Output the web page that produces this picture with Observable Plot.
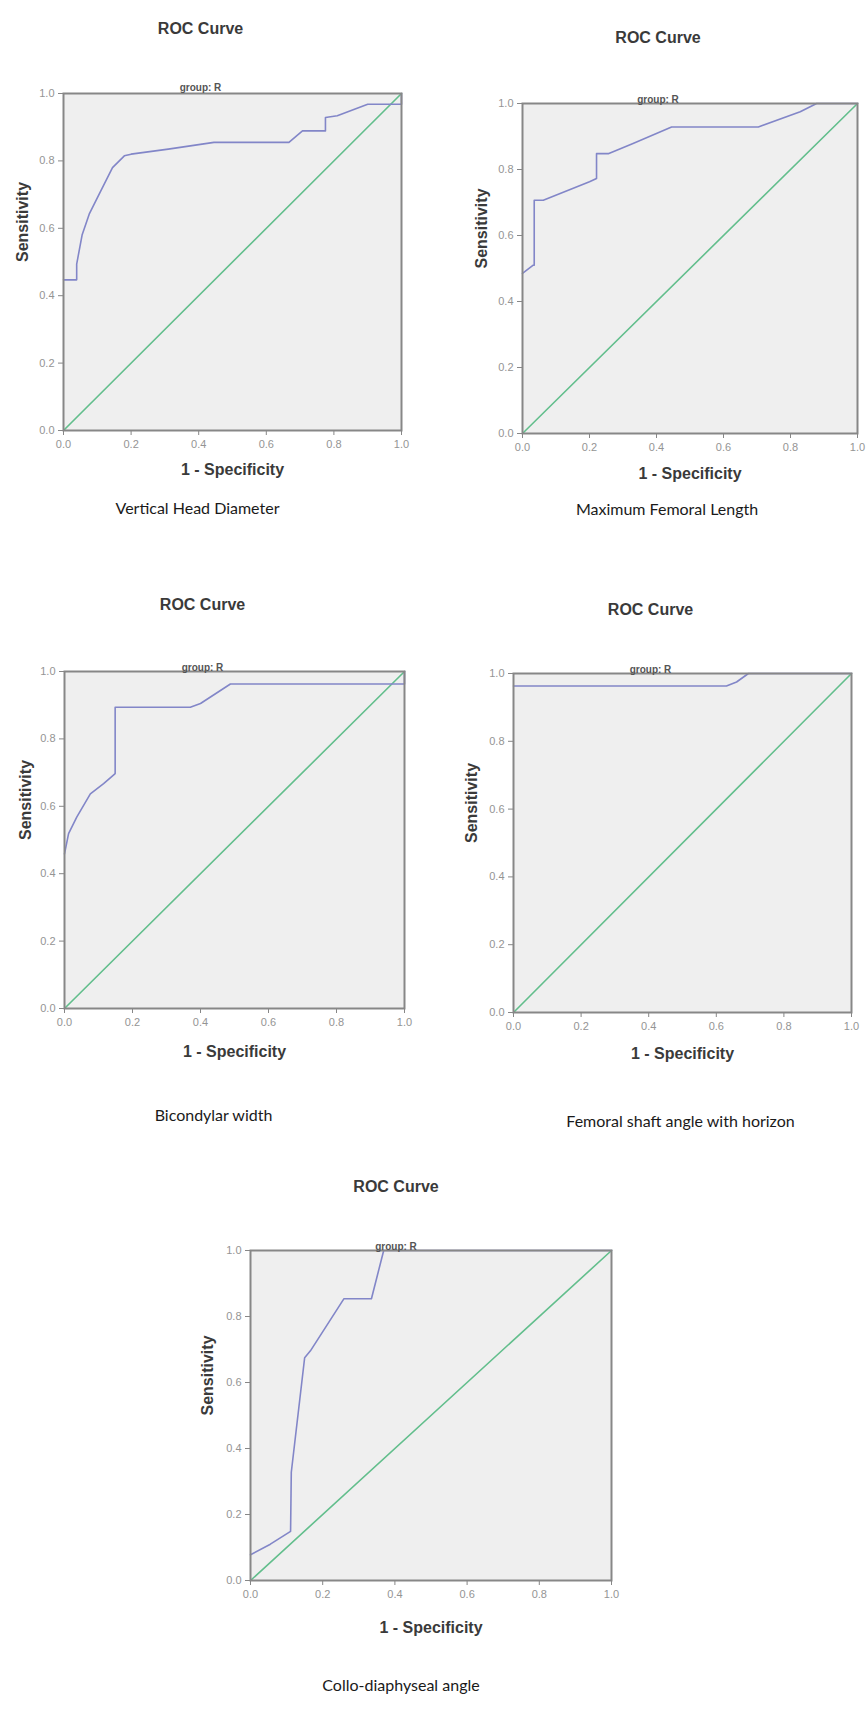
<!DOCTYPE html>
<html><head><meta charset="utf-8">
<script src="https://cdn.jsdelivr.net/npm/d3@7"></script>
<script src="https://cdn.jsdelivr.net/npm/@observablehq/plot@0.6"></script>
<style>
html,body{margin:0;padding:0;background:#fff;}
#page{position:relative;width:866px;height:1732px;overflow:hidden;background:#fff;}
#page svg{position:absolute;}
</style></head><body><div id="page"></div>
<script>
// ---- text ----
const titleText = "ROC Curve";
const groupText = "group: R";
const xLabel = "1 - Specificity";
const yLabel = "Sensitivity";
const captions = ["Vertical Head Diameter", "Maximum Femoral Length", "Bicondylar width", "Femoral shaft angle with horizon", "Collo-diaphyseal angle"];
const tickValues = [0, 0.2, 0.4, 0.6, 0.8, 1.0];
const diagonal = [0, 1];

// ---- series (1 - specificity, sensitivity) ----
const vhdFpr = [0, 0.039, 0.039, 0.055, 0.076, 0.11, 0.145, 0.18, 0.2, 0.31, 0.445, 0.667, 0.707, 0.775, 0.775, 0.81, 0.9, 1.0, 1.0];
const vhdTpr = [0.447, 0.447, 0.494, 0.58, 0.642, 0.71, 0.78, 0.815, 0.82, 0.835, 0.855, 0.855, 0.889, 0.889, 0.929, 0.934, 0.968, 0.968, 1.0];

const mflFpr = [0, 0.032, 0.035, 0.035, 0.062, 0.2, 0.221, 0.221, 0.256, 0.33, 0.445, 0.704, 0.829, 0.878, 1.0];
const mflTpr = [0.485, 0.51, 0.51, 0.707, 0.707, 0.763, 0.773, 0.848, 0.848, 0.879, 0.929, 0.929, 0.975, 1.0, 1.0];

const bcwFpr = [0, 0.012, 0.036, 0.076, 0.115, 0.149, 0.149, 0.37, 0.4, 0.488, 1.0, 1.0];
const bcwTpr = [0.459, 0.519, 0.568, 0.637, 0.667, 0.697, 0.894, 0.894, 0.905, 0.963, 0.963, 1.0];

const fsaFpr = [0, 0.63, 0.66, 0.695, 1.0];
const fsaTpr = [0.963, 0.963, 0.975, 1.0, 1.0];

const cdaFpr = [0, 0.055, 0.111, 0.113, 0.15, 0.166, 0.259, 0.335, 0.369, 1.0];
const cdaTpr = [0.078, 0.11, 0.149, 0.328, 0.675, 0.696, 0.854, 0.854, 1.0, 1.0];

// ---- layout ----
const panels = [
  {fpr: vhdFpr, tpr: vhdTpr, caption: captions[0], box: [63, 93, 338, 337], titleDy: 71, groupDy: 10, headDx: -32, xLabDy: 44, capDy: 83, capDx: -35, yLabDx: 41},
  {fpr: mflFpr, tpr: mflTpr, caption: captions[1], box: [522, 103, 335, 330], titleDy: 72, groupDy: 8, headDx: -32, xLabDy: 45, capDy: 81, capDx: -23, yLabDx: 41},
  {fpr: bcwFpr, tpr: bcwTpr, caption: captions[2], box: [64, 671, 340, 337], titleDy: 73, groupDy: 8, headDx: -32, xLabDy: 48, capDy: 112, capDx: -21, yLabDx: 39},
  {fpr: fsaFpr, tpr: fsaTpr, caption: captions[3], box: [513, 673, 338, 339], titleDy: 70, groupDy: 8, headDx: -32, xLabDy: 46, capDy: 114, capDx: -2, yLabDx: 42},
  {fpr: cdaFpr, tpr: cdaTpr, caption: captions[4], box: [250, 1250, 361, 330], titleDy: 70, groupDy: 8, headDx: -35, xLabDy: 52, capDy: 110, capDx: -30, yLabDx: 43}
];

const page = document.getElementById("page");
const fmt = d3.format(".1f");

for (const p of panels) {
  const [L, T, W, H] = p.box;
  const ml = 70, mr = 20, mt = 90, mb = 125;
  const rows = p.fpr.map((x, i) => ({x, y: p.tpr[i]}));
  const diag = diagonal.map(v => ({x: v, y: v}));
  const svg = Plot.plot({
    width: W + ml + mr,
    height: H + mt + mb,
    marginLeft: ml, marginRight: mr, marginTop: mt, marginBottom: mb,
    x: {domain: [0, 1]},
    y: {domain: [0, 1]},
    style: {background: "transparent", fontFamily: "'Liberation Sans', Arial, sans-serif", maxWidth: "none", overflow: "visible"},
    marks: [
      Plot.frame({fill: "#efefef", stroke: null}),
      Plot.line(diag, {x: "x", y: "y", stroke: "#62be8c", strokeWidth: 1.6}),
      Plot.line(rows, {x: "x", y: "y", stroke: "#8286c8", strokeWidth: 1.6}),
      Plot.frame({stroke: "#878787", strokeWidth: 2}),
      Plot.axisX({ticks: tickValues, tickFormat: fmt, tickSize: 5, tickPadding: 5, fontSize: 11, stroke: "#878787", fill: "#949494", label: null}),
      Plot.axisY({ticks: tickValues, tickFormat: fmt, tickSize: 5, tickPadding: 4, fontSize: 11, stroke: "#878787", fill: "#949494", label: null}),
      Plot.text([titleText], {frameAnchor: "top", dy: -p.titleDy, dx: p.headDx, fontSize: 16, fontWeight: "bold", fill: "#3a3a3a"}),
      Plot.text([groupText], {frameAnchor: "top", dy: -p.groupDy, dx: p.headDx, fontSize: 10, fontWeight: "bold", fill: "#555"}),
      Plot.text([xLabel], {frameAnchor: "bottom", dy: p.xLabDy, fontSize: 16, fontWeight: "bold", fill: "#3a3a3a"}),
      Plot.text([yLabel], {frameAnchor: "left", dx: -p.yLabDx, rotate: -90, fontSize: 16, fontWeight: "bold", fill: "#3a3a3a"}),
      Plot.text([p.caption], {frameAnchor: "bottom", dy: p.capDy, dx: p.capDx, fontSize: 16, fontFamily: "Lato, 'Open Sans', sans-serif", fill: "#1a1a1a"})
    ]
  });
  svg.style.left = (L - ml) + "px";
  svg.style.top = (T - mt) + "px";
  page.appendChild(svg);
}
</script>
</body></html>
